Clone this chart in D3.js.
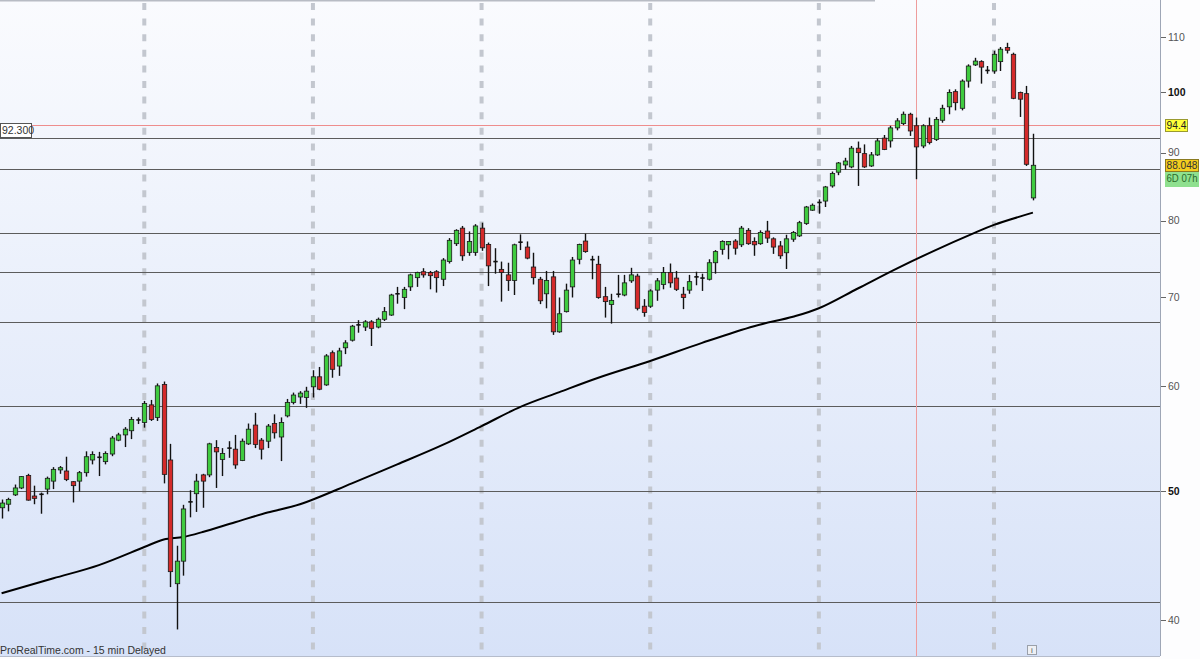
<!DOCTYPE html>
<html><head><meta charset="utf-8">
<script src="https://cdn.jsdelivr.net/npm/d3@7"></script>
<style>html,body{margin:0;padding:0;background:#fff;overflow:hidden}svg{display:block;font-family:"Liberation Sans",Arial,sans-serif}</style>
</head><body><svg id="c" width="1200" height="659"></svg>
<script>
// ---- data (weekly candles) ----
const opens = [48.6,48.9,49.7,50.3,51.4,49.6,49.8,50.2,50.9,51.9,51.8,50.85,50.9,51.65,52.8,53.0,52.65,53.35,54.65,55.15,
55.55,56.5,56.35,58.1,56.85,60.2,52.8,42.6,44.3,49.0,49.8,51.45,51.45,53.95,52.85,53.85,53.8,52.75,54.3,56.1,
54.65,54.55,56.25,54.95,57.0,58.35,58.9,58.85,59.95,61.0,60.15,63.6,62.15,64.15,65.0,66.7,66.5,67.1,66.5,67.4,
67.9,70.4,70.0,71.3,72.45,73.2,73.1,73.2,72.25,74.5,76.85,78.95,75.7,75.7,78.95,76.75,74.45,73.5,72.8,72.1,
77.0,76.4,73.8,72.25,70.45,72.55,65.95,68.3,71.3,74.8,77.2,74.8,74.15,70.1,69.15,70.35,70.3,72.05,72.65,68.95,
68.95,70.9,71.6,73.1,72.4,70.4,70.9,72.5,72.35,72.25,74.35,76.1,76.7,77.2,76.7,78.65,77.15,76.85,78.55,77.5,
76.55,75.65,77.45,77.9,79.6,81.45,82.5,82.75,84.95,87.0,88.1,87.8,90.7,89.85,87.95,89.65,92.3,91.85,93.95,94.65,
96.2,94.3,91.05,94.3,92.1,95.2,97.45,100.05,97.2,101.9,104.8,105.4,103.85,103.7,105.4,108.0,106.75,99.9,99.7,83.2];
const highs = [49.3,49.45,50.6,51.35,51.55,50.5,49.9,51.3,52.15,52.25,53.1,50.9,51.8,53.6,53.6,53.55,53.6,55.05,55.35,55.9,
56.9,56.85,58.5,58.6,60.3,60.5,54.3,45.5,48.85,50.1,51.55,51.55,54.4,54.65,53.9,54.55,55.15,54.8,56.25,57.3,
54.85,56.2,57.15,56.85,58.7,59.35,59.5,59.95,61.7,62.05,63.45,63.85,64.15,65.0,66.75,67.3,67.3,67.3,67.6,68.85,
70.45,71.3,71.3,72.95,73.2,73.65,73.3,73.4,74.95,77.6,78.8,79.25,78.5,79.5,79.7,77.0,76.25,74.5,74.35,76.85,
78.1,77.15,75.65,72.55,73.3,73.3,70.0,71.7,75.1,76.85,78.2,75.25,75.25,71.3,70.45,72.8,72.8,73.7,72.95,69.8,
71.0,72.4,73.8,74.25,73.3,71.3,72.8,73.2,72.95,74.8,76.0,77.3,77.2,77.45,79.25,78.95,77.7,78.65,79.95,77.7,
77.2,78.05,78.55,79.95,82.05,82.4,83.0,84.95,87.1,88.55,89.2,91.05,91.75,91.3,90.1,92.3,92.8,94.3,95.55,96.65,
96.45,95.65,94.55,95.65,95.75,97.8,100.45,100.45,102.2,104.9,106.1,105.65,104.6,107.4,108.1,108.9,107.05,100.05,101.05,93.0];
const lows = [47.7,48.3,49.6,50.2,49.2,48.9,48.1,49.75,50.2,51.55,50.9,49.05,50.0,51.3,52.4,51.35,52.4,53.15,54.55,54.0,
54.75,56.2,55.85,56.5,56.5,50.7,42.35,39.35,43.2,47.8,48.25,48.6,51.25,50.3,51.35,53.0,52.0,52.7,54.2,53.9,
52.85,53.9,54.8,52.7,56.85,58.15,58.2,57.8,58.85,59.6,60.05,60.9,61.1,63.45,64.85,65.85,66.05,64.35,66.35,67.2,
67.8,69.25,68.6,70.8,71.3,72.45,71.0,70.6,71.4,74.25,76.55,74.6,75.25,75.25,75.9,71.4,72.95,69.5,70.8,70.3,
76.0,74.8,71.6,69.2,68.7,65.6,65.85,68.2,70.0,74.15,75.65,72.25,69.85,67.6,66.9,70.0,70.15,71.8,68.45,67.7,
68.75,69.6,71.0,71.2,70.8,68.6,70.45,71.5,70.8,72.1,72.95,75.4,74.8,75.4,76.4,76.7,75.25,76.7,76.95,75.5,
74.85,73.55,77.1,77.75,79.4,81.35,80.95,81.9,84.7,86.55,87.4,87.6,84.95,87.65,87.8,89.5,90.4,90.8,93.55,94.4,
92.65,85.95,90.7,91.3,91.85,94.8,96.2,96.85,96.85,100.75,104.6,101.45,103.2,103.2,103.7,106.9,98.75,95.75,87.95,82.85];
const closes = [49.0,49.3,50.3,51.3,49.25,49.4,49.75,51.15,51.95,52.1,51.05,50.5,51.65,53.1,53.3,53.05,53.4,54.85,55.15,55.7,
56.65,56.6,58.25,56.65,60.05,51.5,43.5,44.3,48.5,49.1,50.9,50.9,54.3,53.55,53.4,53.9,52.35,54.55,55.7,54.25,
53.8,56.0,55.35,56.35,58.35,59.1,59.3,59.5,61.0,59.7,63.25,61.8,63.8,64.7,66.6,66.75,67.1,66.35,67.4,68.3,
70.3,70.45,71.0,72.8,73.1,72.8,72.7,72.45,74.7,77.3,78.65,75.25,77.15,79.25,76.3,73.95,74.5,73.1,72.1,76.7,
77.05,74.95,72.45,69.6,72.1,65.95,68.05,70.9,74.7,76.75,75.8,74.75,70.0,69.5,69.65,70.4,71.8,72.8,68.7,68.2,
70.8,72.05,73.1,71.8,71.0,70.0,71.95,72.55,72.4,74.35,75.8,77.15,77.15,76.25,78.95,76.85,76.7,78.35,77.6,76.4,
75.25,77.5,78.35,79.7,81.9,82.15,82.55,84.8,86.8,88.4,88.7,90.7,90.0,87.8,89.65,91.85,90.5,93.95,95.1,96.2,
93.45,90.9,94.3,91.6,95.35,97.2,99.9,98.15,101.9,104.6,105.5,104.4,103.8,106.75,107.7,107.5,98.9,98.75,88.2,88.05];

// moving average (read at sample candles)
const maIdx = [0,8,15,22,25,28,31,36,41,46,54,61,68,74,80,86,92,100,108,116,122,126,132,138,144,150,153,159];
const maVal = [41.9,43.0,44.0,45.4,46.0,46.2,46.6,47.4,48.2,48.9,50.7,52.4,54.2,56.0,57.9,59.4,60.9,62.7,64.7,66.6,67.7,68.7,71.1,73.6,76.0,78.3,79.4,81.1];

const yTicks = [40,50,60,70,80,90,100,110];
const boldTicks = [50,100];
const levels = [92.3,87.45,78.3,73.2,67.1,58.0,50.0,41.25];
const redLevel = 94.4;
const periodIdx = [22,48,74,100,126,153];
const markIdx = 141;
const lastPrice = "88.048", redLabel = "94.4", timerLabel = "6D 07h", leftLabel = "92.300";
const footer = "ProRealTime.com - 15 min Delayed";

// ---- drawing ----
const W = 1200, H = 659, plotR = 1160, plotB = 656;
const svg = d3.select('#c');
const x = d3.scaleLinear().domain([0, 159]).range([1.6, 1032.9]);
const y = d3.scaleLog().domain([40, 110]).range([620, 37]);

const defs = svg.append('defs');
const g = defs.append('linearGradient').attr('id','bg').attr('x1',0).attr('y1',0).attr('x2',0).attr('y2',1);
g.append('stop').attr('offset','0%').attr('stop-color','#fafbfe');
g.append('stop').attr('offset','100%').attr('stop-color','#d7e2f8');
defs.append('clipPath').attr('id','clip').append('rect').attr('x',0).attr('y',0).attr('width',plotR).attr('height',plotB);

svg.append('rect').attr('width',W).attr('height',H).attr('fill','#fdfdfe');
svg.append('rect').attr('x',0).attr('y',0).attr('width',plotR).attr('height',plotB).attr('fill','url(#bg)');
svg.append('line').attr('x1',0).attr('x2',875).attr('y1',0.5).attr('y2',0.5).attr('stroke','#b8bcc4').attr('stroke-width',2);

const plot = svg.append('g').attr('clip-path','url(#clip)');

// period separators
plot.selectAll('line.per').data(periodIdx).join('line').attr('class','per')
  .attr('x1', d => x(d)).attr('x2', d => x(d)).attr('y1', 3).attr('y2', plotB)
  .attr('stroke', '#c3c7cf').attr('stroke-width', 4).attr('stroke-dasharray', '7,8.6');

// horizontal levels
plot.selectAll('line.lvl').data(levels).join('line').attr('class','lvl')
  .attr('x1', 0).attr('x2', plotR).attr('y1', d => Math.round(y(d)) + 0.5).attr('y2', d => Math.round(y(d)) + 0.5)
  .attr('stroke', '#5c5c5c').attr('stroke-width', 1);
plot.append('line').attr('x1',0).attr('x2',plotR)
  .attr('y1', Math.round(y(redLevel))+0.5).attr('y2', Math.round(y(redLevel))+0.5)
  .attr('stroke','#ee8d8d').attr('stroke-width',1);
plot.append('line').attr('x1', Math.round(x(markIdx))+0.5).attr('x2', Math.round(x(markIdx))+0.5)
  .attr('y1',0).attr('y2',plotB).attr('stroke','#ee9c9c').attr('stroke-width',1);

// moving average
const maData = maIdx.map((d,i) => [d, maVal[i]]);
plot.append('path').datum(maData)
  .attr('d', d3.line().x(d => x(d[0])).y(d => y(d[1])).curve(d3.curveCatmullRom.alpha(0.5)))
  .attr('fill','none').attr('stroke','#000').attr('stroke-width',2);

// candles
const idx = d3.range(opens.length);
const bw = 4.4;
const cg = plot.append('g');
cg.selectAll('line.wick').data(idx).join('line').attr('class','wick')
  .attr('x1', i => Math.round(x(i)) + 0.5).attr('x2', i => Math.round(x(i)) + 0.5)
  .attr('y1', i => y(highs[i])).attr('y2', i => y(lows[i]))
  .attr('stroke', '#111').attr('stroke-width', 1.4);
cg.selectAll('rect.body').data(idx.filter(i => Math.abs(y(opens[i]) - y(closes[i])) >= 1.5)).join('rect').attr('class','body')
  .attr('x', i => Math.round(x(i)) + 0.5 - bw/2)
  .attr('y', i => Math.min(y(opens[i]), y(closes[i])))
  .attr('width', bw)
  .attr('height', i => Math.abs(y(opens[i]) - y(closes[i])))
  .attr('fill', i => closes[i] >= opens[i] ? '#3fcb3f' : '#d42a2a')
  .attr('stroke', '#1a1a1a').attr('stroke-width', 0.8);
cg.selectAll('line.doji').data(idx.filter(i => Math.abs(y(opens[i]) - y(closes[i])) < 1.5)).join('line').attr('class','doji')
  .attr('x1', i => Math.round(x(i)) + 0.5 - bw/2).attr('x2', i => Math.round(x(i)) + 0.5 + bw/2)
  .attr('y1', i => y(closes[i])).attr('y2', i => y(closes[i]))
  .attr('stroke', '#111').attr('stroke-width', 1.6);

// right axis
svg.append('line').attr('x1', plotR + 0.5).attr('x2', plotR + 0.5).attr('y1', 0).attr('y2', plotB)
  .attr('stroke', '#9ea6b6').attr('stroke-width', 1);
const ax = svg.append('g');
ax.selectAll('line.tk').data(yTicks).join('line').attr('class','tk')
  .attr('x1', plotR+1).attr('x2', plotR+6).attr('y1', d => Math.round(y(d))+0.5).attr('y2', d => Math.round(y(d))+0.5)
  .attr('stroke', '#666');
ax.selectAll('text.tl').data(yTicks).join('text').attr('class','tl')
  .attr('x', plotR + 8).attr('y', d => y(d)).attr('dy', '0.35em')
  .attr('font-size', 10.5).attr('fill', d => boldTicks.includes(d) ? '#111' : '#555')
  .attr('font-weight', d => boldTicks.includes(d) ? 'bold' : 'normal')
  .text(d => d);

// price tags
function tag(yc, txt, fill, stroke, color, w, h) {
  svg.append('rect').attr('x', plotR + 5.5).attr('y', Math.round(yc - h/2) + 0.5).attr('width', w).attr('height', h)
    .attr('fill', fill).attr('stroke', stroke).attr('stroke-width', 1);
  svg.append('text').attr('x', plotR + 6.5).attr('y', yc).attr('dy', '0.36em')
    .attr('font-size', 10).attr('fill', color)
    .attr('textLength', w - 2).attr('lengthAdjust', 'spacingAndGlyphs').text(txt);
}
tag(y(redLevel), redLabel, '#ffff3a', '#9a9a30', '#222', 22, 12);
tag(y(+lastPrice), lastPrice, '#f3cd1e', '#8a7a20', '#333', 33, 12);
tag(y(+lastPrice) + 13.5, timerLabel, '#8fe08f', '#8fe08f', '#2a6a2a', 33, 14);

// left level label
const ly = Math.round(y(levels[0]));
svg.append('rect').attr('x', 0.5).attr('y', ly - 14.5).attr('width', 31).attr('height', 14)
  .attr('fill', '#fff').attr('stroke', '#555');
svg.append('text').attr('x', 2).attr('y', ly - 7.5).attr('dy', '0.36em').attr('font-size', 10.5).attr('fill', '#333').text(leftLabel);

// bottom strip
svg.append('line').attr('x1',0).attr('x2',plotR).attr('y1',plotB+0.5).attr('y2',plotB+0.5).attr('stroke','#b5bccb');
svg.append('text').attr('x', 0).attr('y', 654).attr('font-size', 10.5).attr('fill', '#333').text(footer);
svg.append('rect').attr('x', 1027.5).attr('y', 645.5).attr('width', 9).attr('height', 9).attr('fill','#eef0f4').attr('stroke','#9aa0aa');
svg.append('text').attr('x', 1032).attr('y', 653).attr('text-anchor','middle').attr('font-size', 8).attr('fill','#555').text('i');
</script></body></html>
